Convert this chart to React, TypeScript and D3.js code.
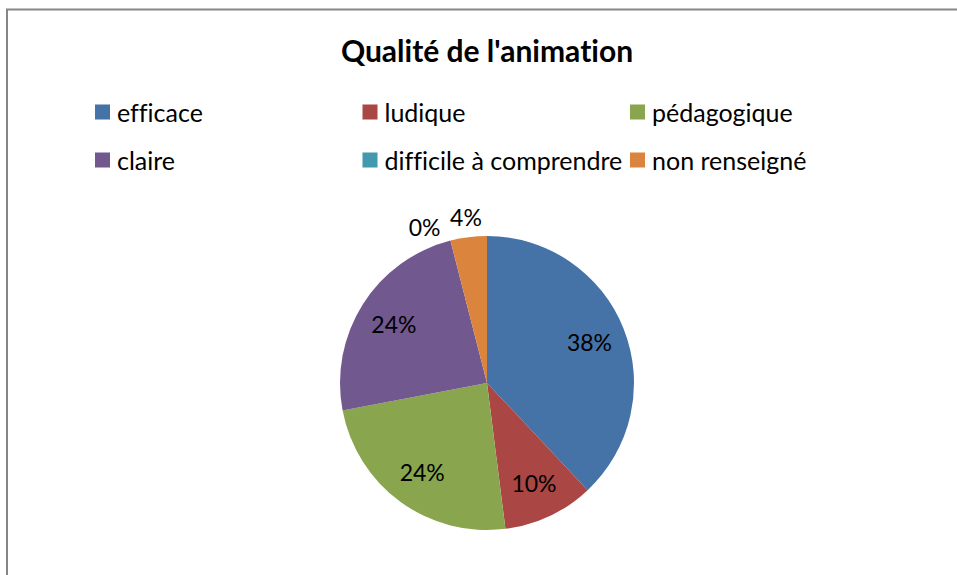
import * as d3 from "d3"
import React from "react"

const categories = ["efficace", "ludique", "pédagogique", "claire", "difficile à comprendre", "non renseigné"]
const values = [38, 10, 24, 24, 0, 4]
const colors = ["#4572A7", "#AA4643", "#89A54E", "#71588F", "#4198AF", "#DB843D"]
const title = "Qualité de l'animation"

const W = 957
const H = 575
const FONT = "Lato, 'Open Sans', sans-serif"

export default function App() {
    const cx = 487
    const cy = 383
    const r = 147

    const pie = d3.pie<number>().sort(null).value(d => d)
    const arcs = pie(values)
    const arc = d3.arc<d3.PieArcDatum<number>>().innerRadius(0).outerRadius(r)
    const total = d3.sum(values)

    // legend grid: 3 columns, 2 rows
    const colX = d3.scalePoint<number>().domain([0, 1, 2]).range([95, 630])
    const rowY = d3.scalePoint<number>().domain([0, 1]).range([112, 160])

    const labelPos = (a: d3.PieArcDatum<number>) => {
        let mid = (a.startAngle + a.endAngle) / 2
        const share = a.value / total
        let rr = r * 0.75
        if (share < 0.06) {
            rr = r * 1.14
            // push empty slice label away from its neighbour
            if (a.value === 0) mid -= 0.13
        }
        return [cx + rr * Math.sin(mid), cy - rr * Math.cos(mid)]
    }

    const txt = { fontFamily: FONT, fontVariantLigatures: "none" } as React.CSSProperties

    return (
        <svg width={W} height={H} style={{ position: "absolute", left: 0, top: 0 }}>
            <rect x={0} y={0} width={W} height={H} fill="white" />
            <rect x={7} y={9.5} width={W + 20} height={H + 20} fill="none" stroke="#868686" strokeWidth={2} />
            <text x={cx} y={50} textAnchor="middle" dominantBaseline="central" style={txt}
                fontWeight="bold" fontSize={30} fill="#000">{title}</text>

            {categories.map((c, i) => {
                const x = colX(i % 3)!
                const y = rowY(Math.floor(i / 3))!
                return (
                    <g key={c}>
                        <rect x={x} y={y - 7.5} width={15} height={15} fill={colors[i]} />
                        <text x={x + 22} y={y} dominantBaseline="central" style={txt}
                            fontSize={25} fill="#000">{c}</text>
                    </g>
                )
            })}

            <g transform={`translate(${cx},${cy})`}>
                {arcs.map((a, i) => (
                    <path key={i} d={arc(a) || ""} fill={colors[i]} />
                ))}
            </g>

            {arcs.map((a, i) => {
                const [lx, ly] = labelPos(a)
                return (
                    <text key={"l" + i} x={lx} y={ly} textAnchor="middle" dominantBaseline="central"
                        style={txt} fontSize={23} fill="#000">
                        {Math.round(a.value / total * 100) + "%"}
                    </text>
                )
            })}
        </svg>
    )
}
